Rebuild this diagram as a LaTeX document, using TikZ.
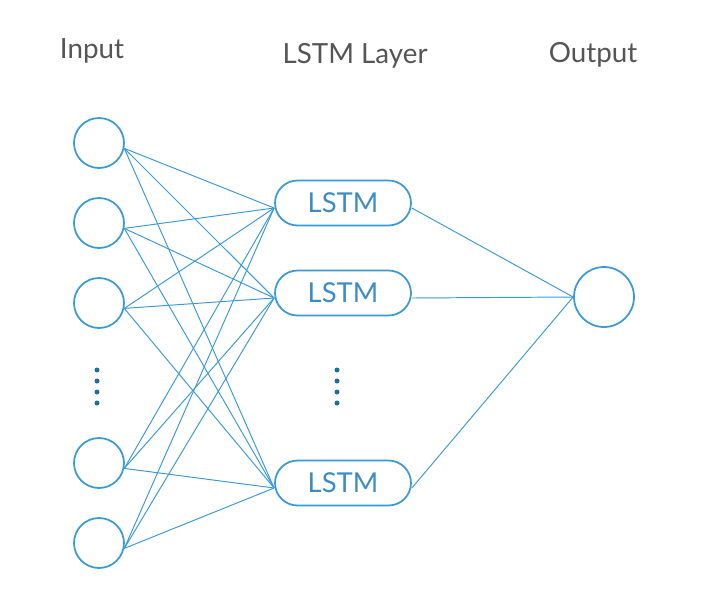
\documentclass[tikz,border=0pt]{standalone}
\usepackage{fontspec}
\setmainfont{Lato}
\usetikzlibrary{positioning}

\definecolor{netblue}{RGB}{58,154,217}
\definecolor{boxtext}{RGB}{62,140,198}
\definecolor{dotblue}{RGB}{27,111,154}
\definecolor{labelgray}{RGB}{85,85,85}

\tikzset{
	unit/.style={draw=netblue, line width=1pt, circle, inner sep=0pt, minimum size=1cm},
	cell/.style={draw=netblue, line width=1pt, rounded corners=0.45cm, minimum width=2.72cm, minimum height=0.9cm, inner sep=0pt, text=boxtext, font=\fontsize{15.6}{18}\selectfont},
	wire/.style={draw=netblue, line width=0.55pt},
	title/.style={anchor=base, text=labelgray, font=\fontsize{15.8}{18}\selectfont}
}

\begin{document}
\begin{tikzpicture}[x=0.02cm, y=-0.02cm]
				\useasboundingbox (0,0) rectangle (706,589);
				\node[title] (tin) at (92,58) {Input};
				\node[title] (tlstm) at (355,63) {LSTM Layer};
				\node[title] (tout) at (593,62) {Output};
				% input units
				\foreach \i/\y in {1/143, 2/223, 3/303, 4/463, 5/543}
					\node[unit] (in\i) at (99,\y) {};
				% lstm cells
				\foreach \j/\y in {1/203, 2/293, 3/483}
					\node[cell] (l\j) at (343,\y) {LSTM};
				\node[unit, minimum size=1.2cm] (out) at (604,297) {};
				% dots
				\foreach \y in {370, 381, 392, 403} {
					\fill[dotblue] (97,\y) circle (0.05cm);
					\fill[dotblue] (337,\y) circle (0.05cm);
				}
				% connections
				\foreach \i in {1,...,5}
					\foreach \j in {1,2,3}
						\draw[wire] (in\i.-12) -- ([yshift=-0.1cm]l\j.west);
				\foreach \j in {1,2,3}
					\draw[wire] ([yshift=-0.1cm]l\j.east) -- (out.west);
			\end{tikzpicture}
\end{document}
